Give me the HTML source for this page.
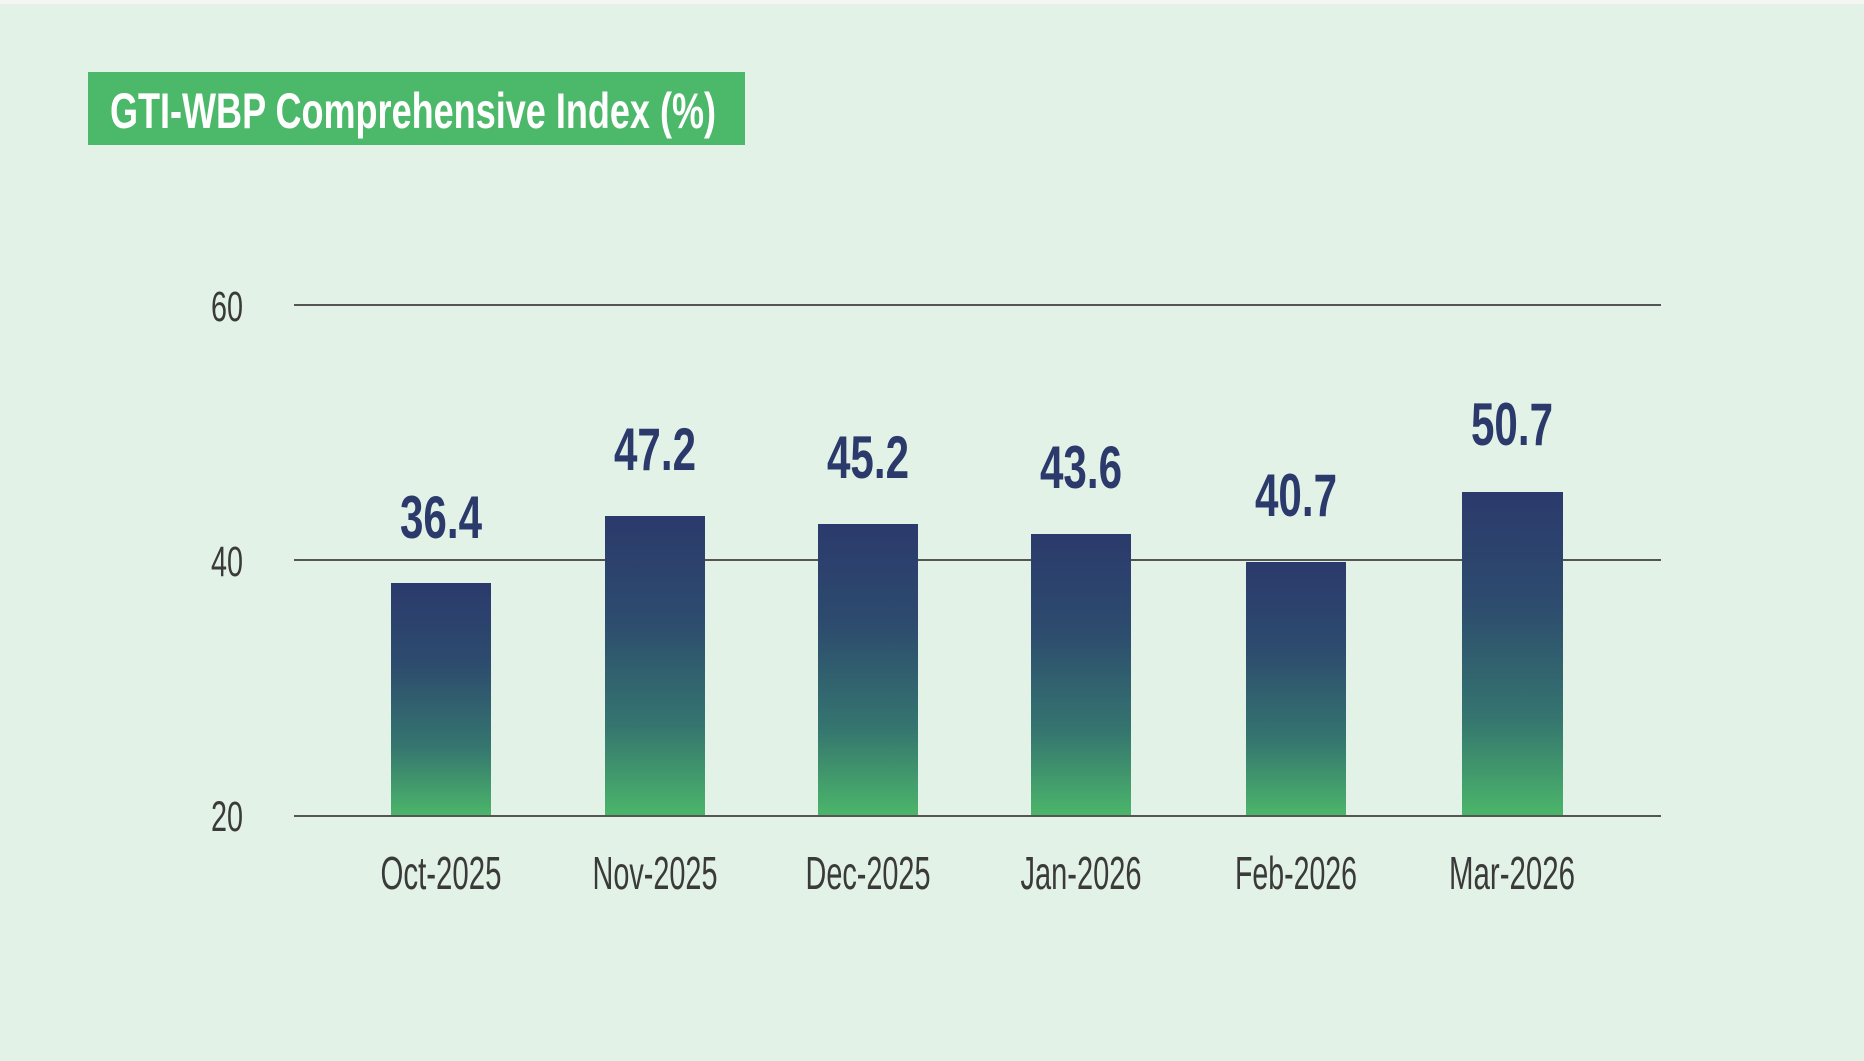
<!DOCTYPE html>
<html><head><meta charset="utf-8"><style>
html,body{margin:0;padding:0;background:#e2f2e7;}
svg{display:block;}
</style></head><body>
<svg width="1864" height="1061" viewBox="0 0 1864 1061" xmlns="http://www.w3.org/2000/svg">
<defs>
<linearGradient id="g" x1="0" y1="0" x2="0" y2="1">
<stop offset="0" stop-color="#2b3a6c"/>
<stop offset="0.35" stop-color="#2d4c6e"/>
<stop offset="0.7" stop-color="#35756f"/>
<stop offset="1" stop-color="#4bb66a"/>
</linearGradient>
</defs>
<rect width="1864" height="1061" fill="#e2f2e7"/>
<rect width="1864" height="4" fill="#f4f6f4"/>
<rect x="88" y="72" width="657" height="73" fill="#4cb96a"/>
<text x="110" y="128" font-family="Liberation Sans, sans-serif" font-weight="bold" font-size="50" fill="#fff" textLength="606" lengthAdjust="spacingAndGlyphs">GTI-WBP Comprehensive Index (%)</text>
<g stroke="#555" stroke-width="2">
<line x1="294" y1="305" x2="1661" y2="305"/>
<line x1="294" y1="560" x2="1661" y2="560"/>
</g>
<g font-family="Liberation Sans, sans-serif" font-size="43" fill="#3a3a3a">
<text x="211" y="321" textLength="32" lengthAdjust="spacingAndGlyphs">60</text>
<text x="211" y="576" textLength="32" lengthAdjust="spacingAndGlyphs">40</text>
<text x="211" y="831" textLength="32" lengthAdjust="spacingAndGlyphs">20</text>
</g>
<g fill="url(#g)">
<rect x="391" y="583" width="100" height="233"/>
<rect x="605" y="516" width="100" height="300"/>
<rect x="818" y="524" width="100" height="292"/>
<rect x="1031" y="534" width="100" height="282"/>
<rect x="1246" y="562" width="100" height="254"/>
<rect x="1462" y="492" width="101" height="324"/>
</g>
<line x1="294" y1="816" x2="1661" y2="816" stroke="#555" stroke-width="2"/>
<g font-family="Liberation Sans, sans-serif" font-weight="bold" font-size="60" fill="#2b3a6b" text-anchor="middle">
<text x="441" y="538" textLength="82" lengthAdjust="spacingAndGlyphs">36.4</text>
<text x="655" y="470" textLength="82" lengthAdjust="spacingAndGlyphs">47.2</text>
<text x="868" y="478" textLength="82" lengthAdjust="spacingAndGlyphs">45.2</text>
<text x="1081" y="488" textLength="82" lengthAdjust="spacingAndGlyphs">43.6</text>
<text x="1296" y="516" textLength="82" lengthAdjust="spacingAndGlyphs">40.7</text>
<text x="1512" y="445" textLength="82" lengthAdjust="spacingAndGlyphs">50.7</text>
</g>
<g font-family="Liberation Sans, sans-serif" font-size="46" fill="#3a3a3a" text-anchor="middle">
<text x="441" y="889" textLength="121" lengthAdjust="spacingAndGlyphs">Oct-2025</text>
<text x="655" y="889" textLength="125" lengthAdjust="spacingAndGlyphs">Nov-2025</text>
<text x="868" y="889" textLength="125" lengthAdjust="spacingAndGlyphs">Dec-2025</text>
<text x="1081" y="889" textLength="121" lengthAdjust="spacingAndGlyphs">Jan-2026</text>
<text x="1296" y="889" textLength="122" lengthAdjust="spacingAndGlyphs">Feb-2026</text>
<text x="1512" y="889" textLength="126" lengthAdjust="spacingAndGlyphs">Mar-2026</text>
</g>
</svg>
</body></html>
